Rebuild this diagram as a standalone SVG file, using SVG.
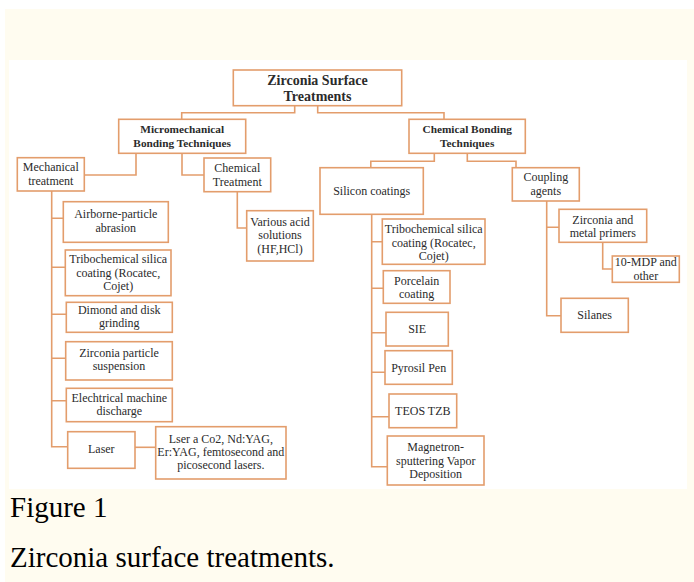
<svg xmlns="http://www.w3.org/2000/svg" width="694" height="582" viewBox="0 0 694 582">
<style>
.box{fill:#ffffff;stroke:#e39d6c;stroke-width:1.6}
.con{fill:none;stroke:#e39d6c;stroke-width:1.6}
.t{font-family:"Liberation Serif","Times New Roman",serif;font-size:12px;fill:#2b2b2b;text-anchor:middle}
.b{font-weight:bold;font-size:11.3px}
.r{font-size:14px;font-weight:bold}
.cap{font-family:"Liberation Serif","Times New Roman",serif;font-size:29px;fill:#000}
</style>
<rect x="0" y="0" width="694" height="582" fill="#ffffff"/>
<rect x="5" y="9" width="689" height="573" fill="#fffcf0"/>
<rect x="9" y="60" width="678" height="429" fill="#ffffff"/>
<g id="connectors">
<path class="con" d="M294.7,105.7V112.7H181.7V119.3M317.7,105.7V112.7H444V119.3"/>
<path class="con" d="M136,153.3V175H84.3M182,153.3V175H204"/>
<path class="con" d="M237.3,191.7V228H246.7"/>
<path class="con" d="M51.7,191V446.7H67.7M51.7,218.3H63.3M51.7,267.3H65.3M51.7,314.3H66.3M51.7,358.3H65.7M51.7,400.7H66.3"/>
<path class="con" d="M135,447.3H155.7"/>
<path class="con" d="M434.3,153.3V161.3H370.8V167.7M467.3,153.3V161.3H516V167.7"/>
<path class="con" d="M371.7,214.3V466.7H387.3M371.7,241.7H382.3M371.7,288.3H383.3M371.7,332.7H386M371.7,372.3H385M371.7,416.7H389"/>
<path class="con" d="M546.7,201V315.7H561M546.7,227.3H559"/>
<path class="con" d="M602.7,242.3V269H612.3"/>
</g>
<g id="root"><rect class="box" x="233.3" y="70" width="168.4" height="35.7"/><text class="t r" x="317.5" y="85">Zirconia Surface</text><text class="t r" x="317.5" y="100.5">Treatments</text></g>
<g id="micro"><rect class="box" x="118.7" y="119.3" width="127" height="34"/><text class="t b" x="182.2" y="132.5">Micromechanical</text><text class="t b" x="182.2" y="146.7">Bonding Techniques</text></g>
<g id="chembond"><rect class="box" x="409" y="119.3" width="116.3" height="34"/><text class="t b" x="467.2" y="132.5">Chemical Bonding</text><text class="t b" x="467.2" y="146.7">Techniques</text></g>
<g id="mech"><rect class="box" x="17.3" y="157.7" width="67" height="33.3"/><text class="t" x="50.8" y="171.3">Mechanical</text><text class="t" x="50.8" y="185.3">treatment</text></g>
<g id="chemtreat"><rect class="box" x="204" y="158" width="66.7" height="33.7"/><text class="t" x="237.3" y="171.8">Chemical</text><text class="t" x="237.3" y="185.8">Treatment</text></g>
<g id="acid"><rect class="box" x="246.7" y="210.7" width="66.6" height="50.3"/><text class="t" x="280" y="226">Various acid</text><text class="t" x="280" y="239.3">solutions</text><text class="t" x="280" y="252.6">(HF,HCl)</text></g>
<g id="airborne"><rect class="box" x="63.3" y="201.7" width="105" height="40.6"/><text class="t" x="115.8" y="218.3">Airborne-particle</text><text class="t" x="115.8" y="231.7">abrasion</text></g>
<g id="tribo1"><rect class="box" x="65.3" y="250" width="105.7" height="45.7"/><text class="t" x="118.2" y="263.3">Tribochemical silica</text><text class="t" x="118.2" y="276.7">coating (Rocatec,</text><text class="t" x="118.2" y="290">Cojet)</text></g>
<g id="dimond"><rect class="box" x="66.3" y="302.3" width="106" height="30"/><text class="t" x="119.3" y="313.5">Dimond and disk</text><text class="t" x="119.3" y="326.5">grinding</text></g>
<g id="zpart"><rect class="box" x="65.7" y="341.7" width="106.6" height="38.3"/><text class="t" x="119" y="356.7">Zirconia particle</text><text class="t" x="119" y="370">suspension</text></g>
<g id="elec"><rect class="box" x="66.3" y="388.3" width="106" height="33.4"/><text class="t" x="119.3" y="401.7">Elechtrical machine</text><text class="t" x="119.3" y="415">discharge</text></g>
<g id="laser"><rect class="box" x="67.7" y="431.7" width="67.3" height="36.6"/><text class="t" x="101.3" y="453.3">Laser</text></g>
<g id="lser"><rect class="box" x="155.7" y="426.7" width="130.3" height="52.3"/><text class="t" x="220.8" y="443.3">Lser a Co2, Nd:YAG,</text><text class="t" x="220.8" y="456.3">Er:YAG, femtosecond and</text><text class="t" x="220.8" y="469.3">picosecond lasers.</text></g>
<g id="silicon"><rect class="box" x="320" y="167.7" width="103.3" height="46.6"/><text class="t" x="371.7" y="194.5">Silicon coatings</text></g>
<g id="coupling"><rect class="box" x="512.3" y="167.7" width="67" height="33.3"/><text class="t" x="545.8" y="181.2">Coupling</text><text class="t" x="545.8" y="194.5">agents</text></g>
<g id="tribo2"><rect class="box" x="382.3" y="219" width="102.7" height="45.3"/><text class="t" x="433.7" y="233">Tribochemical silica</text><text class="t" x="433.7" y="246.5">coating (Rocatec,</text><text class="t" x="433.7" y="260">Cojet)</text></g>
<g id="porcelain"><rect class="box" x="383.3" y="270.7" width="66.7" height="32.6"/><text class="t" x="416.7" y="285">Porcelain</text><text class="t" x="416.7" y="298">coating</text></g>
<g id="sie"><rect class="box" x="386" y="312.3" width="62.3" height="33.7"/><text class="t" x="417.2" y="333">SIE</text></g>
<g id="pyrosil"><rect class="box" x="385" y="350.7" width="67.3" height="33.6"/><text class="t" x="418.7" y="371.5">Pyrosil Pen</text></g>
<g id="teos"><rect class="box" x="389" y="394" width="67.7" height="33.7"/><text class="t" x="422.8" y="415">TEOS TZB</text></g>
<g id="magnetron"><rect class="box" x="387.3" y="436" width="96.7" height="49"/><text class="t" x="435.7" y="451.3">Magnetron-</text><text class="t" x="435.7" y="464.7">sputtering Vapor</text><text class="t" x="435.7" y="478">Deposition</text></g>
<g id="primers"><rect class="box" x="559" y="209.3" width="87.7" height="33"/><text class="t" x="602.8" y="224">Zirconia and</text><text class="t" x="602.8" y="237.3">metal primers</text></g>
<g id="mdp"><rect class="box" x="612.3" y="256" width="67" height="26.3"/><text class="t" x="645.8" y="266.3">10-MDP and</text><text class="t" x="645.8" y="279.7">other</text></g>
<g id="silanes"><rect class="box" x="561" y="298.3" width="67.3" height="34"/><text class="t" x="594.7" y="319.3">Silanes</text></g>
<text class="cap" x="10" y="517">Figure 1</text>
<text class="cap" x="10" y="567">Zirconia surface treatments.</text>
</svg>
